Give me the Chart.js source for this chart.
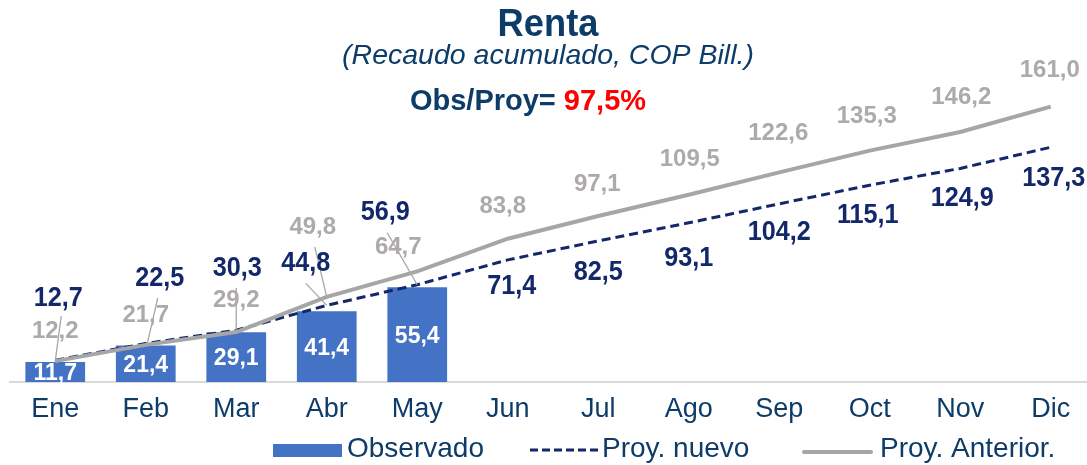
<!DOCTYPE html>
<html lang="es">
<head>
<meta charset="utf-8">
<title>Renta</title>
<script src="https://cdn.jsdelivr.net/npm/chart.js@4/dist/chart.umd.min.js"></script>
<style>
  html, body { margin: 0; padding: 0; background: #fff; overflow: hidden; }
  #wrap { position: relative; width: 1096px; height: 465px; }
</style>
</head>
<body>
<div id="wrap"><canvas id="rentaChart"></canvas></div>
<script>
'use strict';

/* ── Data ───────────────────────────────────────────── */
const MONTHS        = ['Ene', 'Feb', 'Mar', 'Abr', 'May', 'Jun', 'Jul', 'Ago', 'Sep', 'Oct', 'Nov', 'Dic'];
const OBSERVADO     = [11.7, 21.4, 29.1, 41.4, 55.4, null, null, null, null, null, null, null];
const PROY_NUEVO    = [12.7, 22.5, 30.3, 44.8, 56.9, 71.4, 82.5, 93.1, 104.2, 115.1, 124.9, 137.3];
const PROY_ANTERIOR = [12.2, 21.7, 29.2, 49.8, 64.7, 83.8, 97.1, 109.5, 122.6, 135.3, 146.2, 161.0];
const OBS_PROY      = '97,5%';

/* ── Styling ────────────────────────────────────────── */
const C_BAR    = '#4472C4';
const C_NUEVO  = '#13286A';
const C_ANT    = '#A6A6A6';
const C_ANT_TX = '#AEAAAA';
const C_TITLE  = '#0D3C69';
const C_AXIS   = '#0D3C69';
const FONT     = '"Liberation Sans", Arial, sans-serif';

// label placement relative to each point (px): [dx, dy]
const NUEVO_OFF = [[3,-62],[14,-65],[1,-62],[-21,-42],[-32,-72],[4,26],[0,31],[0,35],[0,28],[-2,30],[2,30],[3,31]];
const ANT_OFF   = [[0,-30],[0,-30],[0,-32],[-14,-69],[-19,-24],[-5,-32],[-1,-32],[1,-35],[-1,-39],[-3,-34],[1,-35],[-1,-36]];
// leader lines: dataset index, point index, start offset, end offset
const LEADERS = [
  [2, 0, [0, 0], [6, -45]],
  [2, 1, [1, 1], [12, -47]],
  [2, 2, [0, 0], [0, -44]],
  [2, 3, [0, 0], [-12, -50]],
  [1, 3, [0, 0], [-21, -22]],
  [1, 4, [0, 0], [-30, -52]]
];

const fmt = v => v.toFixed(1).replace('.', ',');

// draw text squeezed horizontally (the source uses a condensed rendering)
function squeezed(ctx, s, x, y, sx) {
  ctx.save();
  ctx.translate(x, y);
  ctx.scale(sx, 1);
  ctx.fillText(s, 0, 0);
  ctx.restore();
}

/* ── Plugin: labels, header, legend ─────────────────── */
const decor = {
  id: 'decor',
  afterDatasetDraw(chart, args) {
    if (args.index !== 0) return;
    const ctx = chart.ctx;
    const meta = chart.getDatasetMeta(0);
    ctx.save();
    ctx.font = 'bold 23px ' + FONT;
    ctx.fillStyle = '#FFFFFF';
    ctx.textAlign = 'center';
    ctx.textBaseline = 'middle';
    meta.data.forEach((bar, i) => {
      if (OBSERVADO[i] == null) return;
      ctx.fillText(fmt(OBSERVADO[i]), bar.x, (bar.y + bar.base) / 2 + 2);
    });
    ctx.restore();
  },
  afterDatasetsDraw(chart) {
    const ctx = chart.ctx;
    ctx.save();
    // leader lines
    ctx.strokeStyle = C_ANT;
    ctx.lineWidth = 1.3;
    LEADERS.forEach(([ds, i, s, e]) => {
      const p = chart.getDatasetMeta(ds).data[i];
      ctx.beginPath();
      ctx.moveTo(p.x + s[0], p.y + s[1]);
      ctx.lineTo(p.x + e[0], p.y + e[1]);
      ctx.stroke();
    });
    ctx.textAlign = 'center';
    ctx.textBaseline = 'middle';
    // previous projection labels
    ctx.font = 'bold 24px ' + FONT;
    ctx.fillStyle = C_ANT_TX;
    chart.getDatasetMeta(2).data.forEach((p, i) => {
      ctx.fillText(fmt(PROY_ANTERIOR[i]), p.x + ANT_OFF[i][0], p.y + ANT_OFF[i][1]);
    });
    // new projection labels
    ctx.font = 'bold 28px ' + FONT;
    ctx.fillStyle = C_NUEVO;
    chart.getDatasetMeta(1).data.forEach((p, i) => {
      squeezed(ctx, fmt(PROY_NUEVO[i]), p.x + NUEVO_OFF[i][0], p.y + NUEVO_OFF[i][1], 0.9);
    });
    ctx.restore();
  },
  afterDraw(chart) {
    const ctx = chart.ctx;
    const cx = 548;
    ctx.save();
    ctx.textBaseline = 'alphabetic';
    ctx.textAlign = 'center';
    ctx.fillStyle = C_TITLE;
    ctx.font = 'bold 39px ' + FONT;
    squeezed(ctx, 'Renta', cx, 36, 0.93);
    ctx.font = 'italic 28.5px ' + FONT;
    ctx.fillText('(Recaudo acumulado, COP Bill.)', cx, 64);
    // Obs/Proy line, two colours
    ctx.font = 'bold 29px ' + FONT;
    const a = 'Obs/Proy= ', b = OBS_PROY;
    const wa = ctx.measureText(a).width, wb = ctx.measureText(b).width;
    const x = 528 - (wa + wb) / 2;
    ctx.textAlign = 'left';
    ctx.fillText(a, x, 110);
    ctx.fillStyle = '#FF0000';
    ctx.fillText(b, x + wa, 110);

    // legend
    const ly = 449;
    ctx.font = '28px ' + FONT;
    ctx.textBaseline = 'middle';
    ctx.fillStyle = C_BAR;
    ctx.fillRect(273, ly - 5, 69, 13);
    ctx.fillStyle = C_AXIS;
    ctx.fillText('Observado', 347, ly);

    ctx.strokeStyle = C_NUEVO;
    ctx.lineWidth = 3;
    ctx.setLineDash([8, 4]);
    ctx.beginPath();
    ctx.moveTo(530, ly + 1);
    ctx.lineTo(601, ly + 1);
    ctx.stroke();
    ctx.setLineDash([]);
    ctx.fillText('Proy. nuevo', 602, ly);

    ctx.strokeStyle = C_ANT;
    ctx.lineWidth = 4;
    ctx.lineCap = 'round';
    ctx.beginPath();
    ctx.moveTo(804, ly + 3);
    ctx.lineTo(871, ly + 3);
    ctx.stroke();
    ctx.fillText('Proy. Anterior.', 880, ly);
    ctx.restore();
  }
};

/* ── Chart ──────────────────────────────────────────── */
new Chart(document.getElementById('rentaChart'), {
  type: 'bar',
  data: {
    labels: MONTHS,
    datasets: [
      {
        label: 'Observado',
        data: OBSERVADO,
        backgroundColor: C_BAR,
        barPercentage: 0.66,
        categoryPercentage: 1,
        order: 3
      },
      {
        type: 'line',
        label: 'Proy. nuevo',
        data: PROY_NUEVO,
        borderColor: C_NUEVO,
        borderWidth: 3,
        borderDash: [9, 5],
        pointRadius: 0,
        tension: 0,
        fill: false,
        order: 2
      },
      {
        type: 'line',
        label: 'Proy. Anterior.',
        data: PROY_ANTERIOR,
        borderColor: C_ANT,
        borderWidth: 4,
        pointRadius: 0,
        tension: 0,
        fill: false,
        order: 1
      }
    ]
  },
  options: {
    responsive: true,
    maintainAspectRatio: false,
    animation: false,
    devicePixelRatio: 1,
    layout: { padding: { top: 40, left: 10, right: 0, bottom: 33 } },
    plugins: {
      legend: { display: false },
      tooltip: { enabled: false },
      title: { display: false }
    },
    scales: {
      x: {
        grid: { display: false, drawTicks: false },
        border: { display: true, color: '#D9D9D9', width: 2 },
        ticks: { color: C_AXIS, font: { family: FONT, size: 27 }, padding: 11 },
        afterFit: s => { s.height = 50; }
      },
      y: { display: false, min: 0, max: 200 }
    }
  },
  plugins: [decor]
});
</script>
</body>
</html>
